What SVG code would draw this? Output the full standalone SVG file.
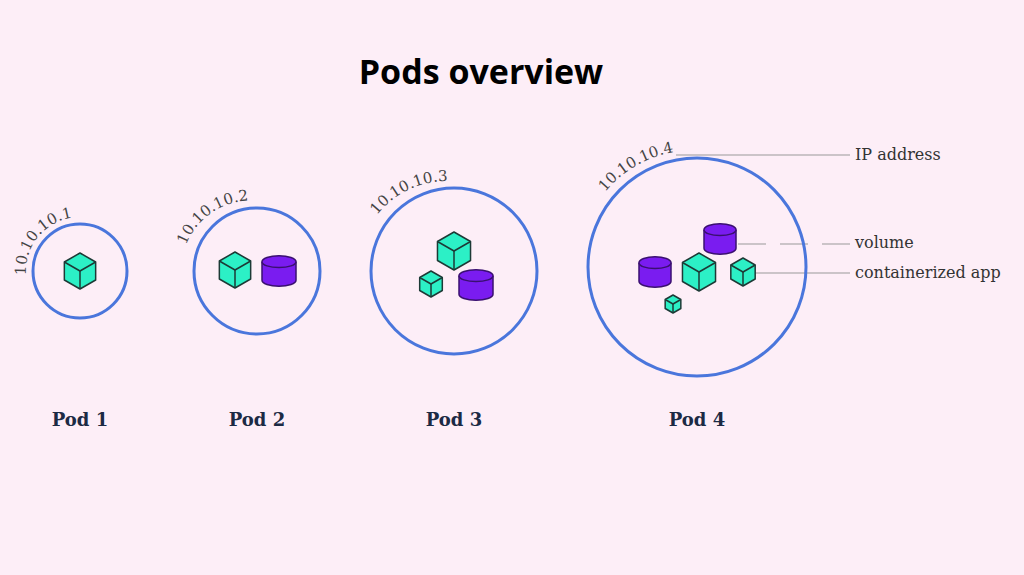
<svg xmlns="http://www.w3.org/2000/svg" xmlns:xlink="http://www.w3.org/1999/xlink" width="1024" height="575" viewBox="0 0 1024 575">
<style>
.pod{fill:none;stroke:#4a76dc;stroke-width:3}
.ip{font-family:"DejaVu Serif","Liberation Serif",serif;font-size:15px;fill:#444}
.lbl{font-family:"DejaVu Serif","Liberation Serif",serif;font-size:16px;fill:#333}
.pl{font-family:"DejaVu Serif","Liberation Serif",serif;font-size:18px;font-weight:bold;fill:#1c2a44;text-anchor:middle}
.ln{stroke:#999;stroke-width:1;fill:none}
.cf{fill:#2cf0c6;stroke:#1d3a36;stroke-width:1.5;stroke-linejoin:round;vector-effect:non-scaling-stroke}
.cy{fill:#7a1cf0;stroke:#3a1070;stroke-width:1.5;vector-effect:non-scaling-stroke}
</style>
<defs>
<g id="cube">
<polygon class="cf" points="0,-1 0.87,-0.5 0.87,0.5 0,1 -0.87,0.5 -0.87,-0.5"/>
<polyline class="cf" fill="none" points="-0.87,-0.5 0,0 0.87,-0.5"/>
<line class="cf" x1="0" y1="0" x2="0" y2="1"/>
</g>
<g id="cyl">
<path class="cy" d="M-1,-0.55 V0.55 A1,0.35 0 0 0 1,0.55 V-0.55"/>
<ellipse class="cy" cx="0" cy="-0.55" rx="1" ry="0.35"/>
</g>
<path id="a1" d="M26,275 A54,54 0 0 1 100,221"/>
<path id="a2" d="M186,245 A70,70 0 0 1 260,201"/>
<path id="a3" d="M377,215 A90,90 0 0 1 450,181"/>
<path id="a4" d="M605,192 A116,116 0 0 1 680,151"/>
</defs>
<rect width="1024" height="575" fill="#fdeef7"/>
<text x="481" y="84" font-family="'Open Sans','DejaVu Sans',sans-serif" font-size="34" font-weight="bold" text-anchor="middle" fill="#000">Pods overview</text>
<g id="connectors">
<line class="ln" x1="676" y1="155" x2="850" y2="155"/>
<line class="ln" x1="738" y1="244" x2="850" y2="244" stroke-dasharray="28,14"/>
<line class="ln" x1="752" y1="273" x2="850" y2="273"/>
</g>
<g id="pod1">
<circle class="pod" cx="80" cy="271" r="47"/>
<text class="ip"><textPath xlink:href="#a1">10.10.10.1</textPath></text>
<use href="#cube" transform="translate(80,271) scale(18)"/>
<text class="pl" x="80" y="426">Pod 1</text>
</g>
<g id="pod2">
<circle class="pod" cx="257" cy="271" r="63"/>
<text class="ip"><textPath xlink:href="#a2">10.10.10.2</textPath></text>
<use href="#cube" transform="translate(235,270) scale(18)"/>
<use href="#cyl" transform="translate(279,271) scale(17,17)"/>
<text class="pl" x="257" y="426">Pod 2</text>
</g>
<g id="pod3">
<circle class="pod" cx="454" cy="271" r="83"/>
<text class="ip"><textPath xlink:href="#a3">10.10.10.3</textPath></text>
<use href="#cube" transform="translate(454,251) scale(19)"/>
<use href="#cube" transform="translate(431,284) scale(13)"/>
<use href="#cyl" transform="translate(476,285) scale(17,17)"/>
<text class="pl" x="454" y="426">Pod 3</text>
</g>
<g id="pod4">
<circle class="pod" cx="697" cy="267" r="109"/>
<text class="ip"><textPath xlink:href="#a4">10.10.10.4</textPath></text>
<use href="#cyl" transform="translate(720,239) scale(16,17)"/>
<use href="#cyl" transform="translate(655,272) scale(16,17)"/>
<use href="#cube" transform="translate(699,272) scale(19)"/>
<use href="#cube" transform="translate(743,272) scale(14)"/>
<use href="#cube" transform="translate(673,304) scale(9)"/>
<text class="pl" x="697" y="426">Pod 4</text>
</g>
<g id="labels">
<text class="lbl" x="855" y="160">IP address</text>
<text class="lbl" x="855" y="248">volume</text>
<text class="lbl" x="855" y="278">containerized app</text>
</g>
</svg>
